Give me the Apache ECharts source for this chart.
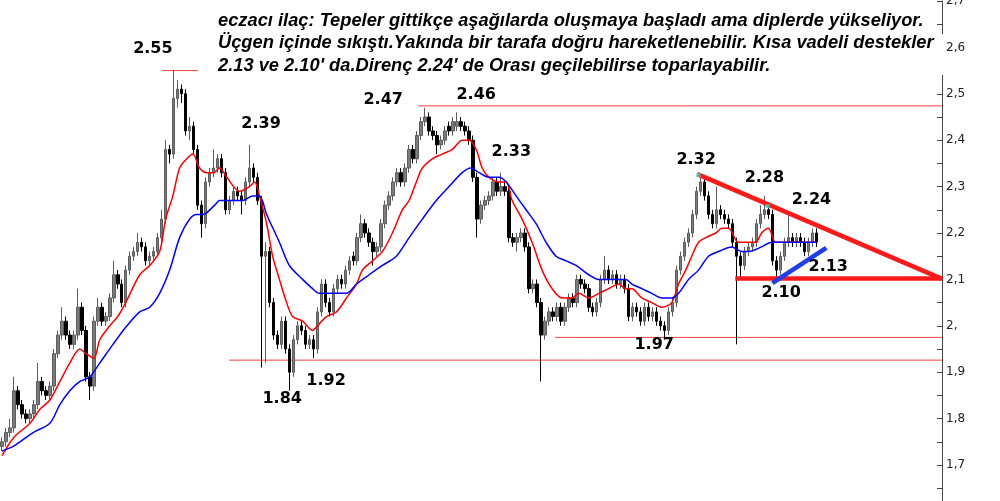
<!DOCTYPE html>
<html><head><meta charset="utf-8">
<script src="https://cdn.jsdelivr.net/npm/echarts@6/dist/echarts.min.js"></script>
<style>html,body{margin:0;padding:0;background:#fff}#c{width:1000px;height:501px}</style>
</head><body><div id="c"></div>
<script>
// ---- price data (daily candles) ----
const openP = [1.74,1.75,1.77,1.78,1.86,1.83,1.81,1.80,1.81,1.83,1.88,1.86,1.85,1.87,1.94,1.98,2.01,1.98,1.96,1.98,
2.04,1.99,1.89,1.87,2.01,2.04,2.01,2.02,2.06,2.11,2.09,2.05,2.12,2.15,2.16,2.18,2.17,2.14,2.15,2.16,
2.19,2.23,2.38,2.37,2.49,2.51,2.50,2.42,2.43,2.38,2.26,2.22,2.31,2.33,2.34,2.36,2.33,2.25,2.27,2.29,
2.28,2.27,2.31,2.34,2.32,2.27,2.15,2.16,2.05,1.98,1.96,2.01,1.95,1.90,1.97,2.00,1.99,1.96,1.97,1.95,
2.03,2.09,2.05,2.03,2.08,2.10,2.09,2.12,2.15,2.14,2.19,2.22,2.20,2.18,2.16,2.17,2.22,2.26,2.28,2.31,
2.33,2.31,2.34,2.38,2.36,2.41,2.44,2.45,2.42,2.41,2.39,2.40,2.43,2.42,2.43,2.44,2.43,2.42,2.40,2.32,
2.23,2.26,2.27,2.28,2.31,2.29,2.30,2.29,2.19,2.18,2.19,2.20,2.17,2.08,2.09,2.05,1.98,2.01,2.03,2.02,
2.04,2.01,2.04,2.06,2.05,2.10,2.09,2.08,2.04,2.03,2.05,2.10,2.12,2.10,2.11,2.09,2.10,2.08,2.02,2.04,
2.03,2.01,2.04,2.02,2.03,2.01,2.00,1.99,2.03,2.05,2.12,2.15,2.18,2.20,2.24,2.29,2.31,2.28,2.24,2.22,
2.25,2.24,2.23,2.22,2.18,2.15,2.13,2.16,2.17,2.18,2.22,2.24,2.25,2.24,2.14,2.12,2.15,2.18,2.19,2.18,
2.19,2.18,2.16,2.18,2.20];
const closeP = [1.75,1.77,1.78,1.86,1.83,1.81,1.80,1.81,1.83,1.88,1.86,1.85,1.87,1.94,1.98,2.01,1.98,1.96,1.98,2.04,
1.99,1.89,1.87,2.01,2.04,2.01,2.02,2.06,2.11,2.09,2.05,2.12,2.15,2.16,2.18,2.17,2.14,2.15,2.16,2.19,
2.23,2.38,2.37,2.49,2.51,2.50,2.42,2.43,2.38,2.26,2.22,2.31,2.33,2.34,2.36,2.33,2.25,2.27,2.29,2.28,
2.27,2.31,2.34,2.32,2.27,2.15,2.16,2.05,1.98,1.96,2.01,1.95,1.90,1.97,2.00,1.99,1.96,1.97,1.95,2.03,
2.09,2.05,2.03,2.08,2.10,2.09,2.12,2.14,2.14,2.19,2.22,2.20,2.18,2.16,2.17,2.22,2.26,2.28,2.31,2.33,
2.31,2.34,2.38,2.36,2.41,2.44,2.45,2.42,2.41,2.39,2.40,2.42,2.42,2.44,2.44,2.43,2.42,2.40,2.32,2.23,
2.26,2.27,2.28,2.31,2.29,2.30,2.29,2.19,2.18,2.19,2.20,2.17,2.08,2.09,2.05,1.98,2.01,2.03,2.02,2.04,
2.01,2.04,2.06,2.05,2.10,2.09,2.08,2.04,2.03,2.05,2.10,2.12,2.10,2.11,2.09,2.10,2.08,2.02,2.04,2.03,
2.01,2.04,2.02,2.03,2.01,2.00,1.99,2.03,2.05,2.12,2.15,2.18,2.20,2.24,2.29,2.31,2.28,2.24,2.22,2.25,
2.24,2.23,2.22,2.18,2.15,2.13,2.16,2.17,2.18,2.22,2.24,2.25,2.24,2.14,2.12,2.15,2.18,2.19,2.18,2.19,
2.18,2.16,2.18,2.20,2.18];
const lowP = [1.73,1.74,1.76,1.77,1.82,1.80,1.79,1.79,1.80,1.82,1.85,1.84,1.84,1.86,1.93,1.97,1.97,1.95,1.95,1.97,
1.98,1.88,1.84,1.86,2.00,2.00,2.00,2.01,2.05,2.08,2.04,2.04,2.11,2.14,2.15,2.16,2.13,2.13,2.14,2.15,
2.18,2.22,2.35,2.36,2.47,2.48,2.41,2.40,2.37,2.25,2.19,2.21,2.30,2.32,2.33,2.32,2.24,2.24,2.26,2.27,
2.24,2.26,2.30,2.31,2.26,1.91,1.92,2.04,1.97,1.95,1.95,1.94,1.86,1.89,1.96,1.98,1.95,1.95,1.93,1.94,
2.02,2.04,2.02,2.02,2.07,2.08,2.08,2.11,2.13,2.13,2.18,2.19,2.17,2.13,2.15,2.16,2.21,2.25,2.27,2.30,
2.30,2.30,2.33,2.35,2.35,2.40,2.43,2.41,2.40,2.37,2.38,2.39,2.41,2.41,2.42,2.42,2.41,2.39,2.31,2.19,
2.22,2.25,2.26,2.27,2.28,2.28,2.28,2.18,2.17,2.16,2.18,2.16,2.07,2.07,2.04,1.88,1.97,2.00,2.01,2.01,
2.00,2.00,2.03,2.04,2.04,2.08,2.07,2.03,2.02,2.02,2.04,2.09,2.09,2.09,2.08,2.08,2.07,2.01,2.01,2.02,
2.00,2.00,2.01,2.01,2.00,1.99,1.97,1.98,2.02,2.04,2.11,2.14,2.17,2.19,2.23,2.28,2.27,2.23,2.21,2.21,
2.23,2.22,2.21,2.17,1.96,2.10,2.12,2.15,2.16,2.17,2.21,2.23,2.23,2.13,2.10,2.11,2.14,2.17,2.17,2.17,
2.17,2.15,2.15,2.17,2.17];
const highP = [1.76,1.78,1.80,1.89,1.87,1.84,1.82,1.82,1.84,1.92,1.89,1.87,1.88,1.95,1.99,2.04,2.02,1.99,1.99,2.08,
2.05,2.00,1.90,2.02,2.06,2.05,2.03,2.07,2.14,2.12,2.10,2.13,2.16,2.17,2.20,2.19,2.18,2.16,2.17,2.20,
2.25,2.40,2.39,2.55,2.53,2.52,2.51,2.45,2.44,2.39,2.27,2.32,2.34,2.38,2.37,2.37,2.34,2.28,2.30,2.30,
2.29,2.32,2.39,2.35,2.33,2.28,2.18,2.17,2.06,1.99,2.02,2.02,1.96,1.98,2.01,2.01,2.00,1.98,1.98,2.04,
2.10,2.10,2.06,2.09,2.11,2.11,2.13,2.15,2.16,2.20,2.24,2.23,2.21,2.19,2.18,2.23,2.27,2.29,2.32,2.34,
2.34,2.35,2.39,2.39,2.42,2.45,2.47,2.46,2.43,2.42,2.41,2.43,2.44,2.45,2.46,2.45,2.44,2.43,2.41,2.33,
2.27,2.28,2.29,2.32,2.32,2.33,2.31,2.30,2.20,2.20,2.21,2.21,2.18,2.10,2.10,2.06,2.02,2.04,2.04,2.05,
2.05,2.05,2.07,2.07,2.11,2.11,2.10,2.09,2.05,2.06,2.11,2.15,2.13,2.12,2.12,2.11,2.11,2.09,2.05,2.05,
2.04,2.05,2.05,2.04,2.04,2.02,2.01,2.04,2.06,2.13,2.16,2.19,2.21,2.25,2.30,2.32,2.32,2.29,2.25,2.30,
2.26,2.25,2.24,2.23,2.19,2.16,2.17,2.18,2.19,2.23,2.26,2.28,2.26,2.25,2.15,2.16,2.19,2.24,2.20,2.20,
2.20,2.19,2.19,2.21,2.21];
// moving averages: [candle index, price]
const maShort = [[0,1.72],[3,1.76],[7,1.79],[9.5,1.82],[12,1.84],[14.5,1.88],[17,1.92],[19.5,1.95],[21,1.94],[23,1.93],
[24.5,1.97],[27,2.00],[29,2.02],[31,2.05],[34.5,2.11],[37,2.13],[39.5,2.16],[41,2.23],[42.8,2.28],[44.5,2.34],[46.3,2.36],
[47.8,2.37],[49.5,2.34],[51.3,2.33],[53,2.33],[54.5,2.34],[56.3,2.32],[59.5,2.29],[62,2.30],[63.3,2.31],[64.5,2.28],
[66.3,2.22],[67.8,2.15],[69.5,2.10],[71.3,2.05],[72.8,2.02],[75.3,2.01],[77.8,1.99],[79,2.00],[81.3,2.02],[83.8,2.03],
[86.3,2.06],[88.8,2.09],[90.3,2.12],[92.8,2.14],[95.3,2.16],[97.8,2.20],[100.3,2.25],[102,2.27],[103.8,2.31],[105.3,2.34],
[107.8,2.36],[110.3,2.37],[112.8,2.38],[115.3,2.40],[117,2.40],[118.8,2.38],[120.3,2.34],[122,2.32],[124.5,2.31],[126.3,2.31],
[127.8,2.27],[130.3,2.23],[132.8,2.18],[135.3,2.12],[137.8,2.08],[140.3,2.06],[142.8,2.06],[144.5,2.07],[147,2.06],[149.5,2.07],
[152,2.08],[154.5,2.09],[156.3,2.08],[157.8,2.08],[160.3,2.06],[162.8,2.05],[165.3,2.04],[167.8,2.05],[169.5,2.09],[171.3,2.12],
[172.8,2.15],[174.5,2.18],[176.3,2.19],[178.8,2.20],[180.3,2.21],[182,2.21],[184.5,2.18],[187,2.18],[188.8,2.18],
[190.3,2.20],[192,2.21],[193.8,2.18],[195.3,2.18],[197.8,2.18],[200.3,2.18],[202,2.18],[204,2.18]];
const maLong = [[0,1.73],[2.8,1.74],[4.5,1.75],[7.8,1.77],[12,1.79],[14.5,1.83],[17,1.86],[19.5,1.88],[22,1.89],[24.5,1.92],
[27.8,1.96],[31.3,2.00],[34.5,2.03],[37,2.04],[39.5,2.07],[42,2.12],[44.5,2.19],[47,2.23],[48.8,2.24],[50.3,2.24],[53.3,2.26],
[54.5,2.27],[56.3,2.27],[57.8,2.27],[60.3,2.27],[62.8,2.28],[64.5,2.28],[66.3,2.24],[69.5,2.18],[72,2.13],[75.3,2.10],
[77.8,2.08],[79.5,2.07],[82.8,2.07],[86.3,2.07],[88.8,2.09],[92,2.11],[95.3,2.13],[98.8,2.15],[102,2.19],[105.3,2.23],
[108.8,2.27],[112,2.30],[115.3,2.33],[117.5,2.34],[119.5,2.33],[122,2.32],[124.5,2.32],[126.3,2.31],[128.8,2.28],[131.3,2.25],
[133.8,2.22],[136.3,2.18],[138.8,2.15],[141.3,2.14],[143.8,2.13],[147,2.11],[149.5,2.10],[152.8,2.10],[156.3,2.10],[157.8,2.09],
[160.3,2.08],[162.8,2.07],[165.3,2.06],[167.8,2.06],[169.5,2.07],[172,2.10],[174.5,2.12],[177,2.15],[179.5,2.16],[182.8,2.17],
[185.3,2.16],[187,2.16],[190.3,2.17],[192.8,2.18],[194.5,2.18],[197.8,2.18],[202,2.18],[204,2.18]];
// horizontal levels: [fromIndex, toIndex, price]
const thinLevels = [[40.1,49.1,2.55],[104.3,235.5,2.474],[56.9,235.5,1.926],[138.6,235.5,1.975]];
const supportLevel = [[183.7,235.5,2.102]];
const triangleLine = [[174.2,2.327],[235.5,2.101]];
const risingLine = [[193,2.092],[206.5,2.168]];
const peakMarks = [[174.5,2.325],[191.8,2.258]];
// annotation texts: [index, price, text]
const notes = [[37.8,2.597,'2.55'],[64.9,2.435,'2.39'],[95.5,2.487,'2.47'],[118.8,2.498,'2.46'],[127.6,2.375,'2.33'],
[173.9,2.358,'2.32'],[191,2.319,'2.28'],[202.8,2.271,'2.24'],[207,2.127,'2.13'],[195.2,2.071,'2.10'],
[163.4,1.959,'1.97'],[81.2,1.881,'1.92'],[70.2,1.842,'1.84']];
const titleLines = ['eczacı ilaç: Tepeler gittikçe aşağılarda oluşmaya başladı ama diplerde yükseliyor.',
'Üçgen içinde sıkıştı.Yakında bir tarafa doğru hareketlenebilir. Kısa vadeli destekler',
"2.13 ve 2.10' da.Direnç 2.24' de Orası geçilebilirse toparlayabilir."];
const slotCount = 236;

const categories = [];
for (let i = 0; i < slotCount; i++) categories.push(String(i));
const candles = openP.map((o, i) => [o, closeP[i], lowP[i], highP[i]]);

const chart = echarts.init(document.getElementById('c'), null, {renderer: 'canvas'});
const lineSeries = (data, color, width, extra) => Object.assign({
  type: 'line', xAxisIndex: 1, yAxisIndex: 0, data, symbol: 'none', silent: true,
  lineStyle: {color, width}, animation: false
}, extra || {});

const series = [
  {type: 'candlestick', data: candles, barWidth: 3, animation: false,
   itemStyle: {color: '#7c7c7c', color0: '#000000', borderColor: '#5c5c5c', borderColor0: '#000000', borderWidth: 1}},
  lineSeries(maShort, '#ff0000', 1.5, {smooth: 0.3, z: 3}),
  lineSeries(maLong, '#0000ff', 1.5, {smooth: 0.3, z: 3}),
];
thinLevels.forEach(l => series.push(lineSeries([[l[0], l[2]], [l[1], l[2]]], '#f04040', 1, {z: 2})));
supportLevel.forEach(l => series.push(lineSeries([[l[0], l[2]], [l[1], l[2]]], '#ff1a1a', 4.5, {z: 4})));
series.push(lineSeries(triangleLine, '#ff1a1a', 4.5, {z: 4}));
series.push(lineSeries(risingLine, '#1e3cf0', 4.5, {z: 4}));
series.push({type: 'scatter', xAxisIndex: 1, data: peakMarks, symbol: 'rect', symbolSize: 4,
  itemStyle: {color: '#3fd0c8'}, silent: true, animation: false, z: 5});

chart.setOption({
  animation: false,
  backgroundColor: '#ffffff',
  grid: {left: 0, right: 58, top: 1, bottom: -10.4, containLabel: false, outerBoundsMode: 'none'},
  xAxis: [
    {type: 'category', data: categories, boundaryGap: true, show: false},
    {type: 'value', min: -0.5, max: slotCount - 0.5, show: false}
  ],
  yAxis: [{
    type: 'value', position: 'right', min: 1.6, max: 2.7, interval: 0.1,
    splitLine: {show: false},
    axisLine: {show: true, onZero: false, lineStyle: {color: '#444', width: 1}},
    axisTick: {show: true, inside: true, length: 5, lineStyle: {color: '#444'}},
    minorTick: {show: true, splitNumber: 2, length: 5, lineStyle: {color: '#444'}},
    axisLabel: {margin: 4, color: '#222', fontFamily: 'DejaVu Sans', fontSize: 12, showMaxLabel: true,
      formatter: v => { const s = v.toFixed(1).replace('.', ','); return s === '2,0' ? '2,' : s; }}
  }],
  series
});

// annotations placed through the chart's own scales
const graphic = [
  {type: 'rect', shape: {x: 930, y: 34, width: 14, height: 41}, style: {fill: '#ffffff'}, z: 100}
];
notes.forEach(n => {
  const p = chart.convertToPixel({xAxisIndex: 1, yAxisIndex: 0}, [n[0], n[1]]);
  graphic.push({type: 'text', x: p[0], y: p[1], z: 101, silent: true,
    style: {text: n[2], fill: '#000', font: 'bold 16px "DejaVu Sans", Verdana, sans-serif',
      textAlign: 'center', textVerticalAlign: 'middle'}});
});
titleLines.forEach((t, k) => graphic.push({
  type: 'text', x: 218, y: 21 + k * 22.3, z: 101, silent: true,
  style: {text: t, fill: '#000', font: 'italic bold 18.3px "Liberation Sans", Arial, sans-serif', textVerticalAlign: 'middle'}
}));
chart.setOption({graphic});
</script></body></html>
